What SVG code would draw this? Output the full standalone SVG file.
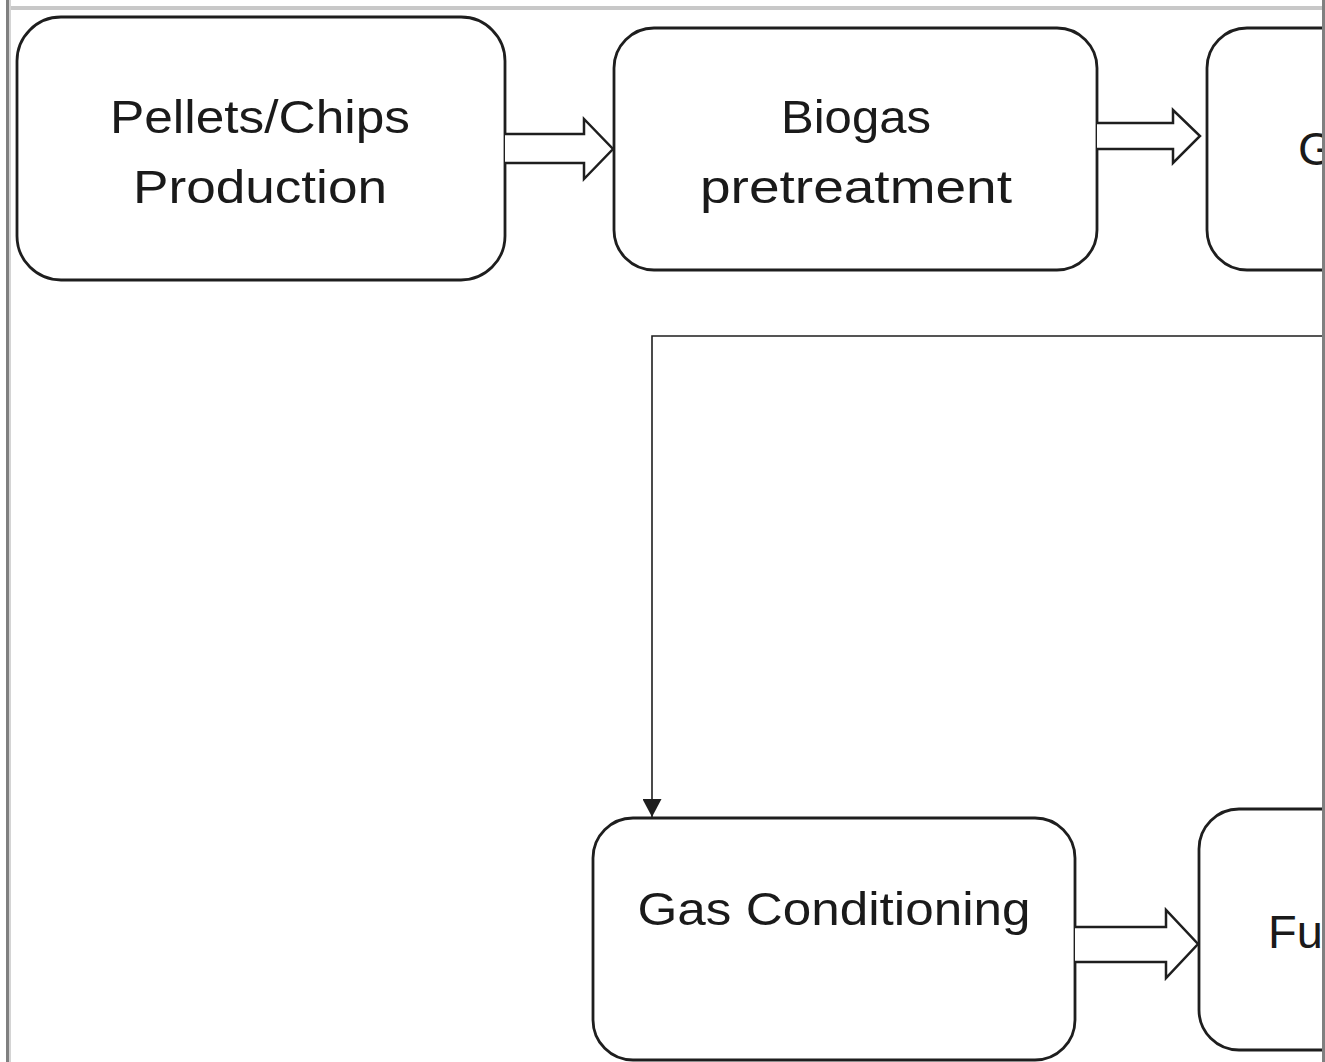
<svg xmlns="http://www.w3.org/2000/svg" width="1325" height="1062" viewBox="0 0 1325 1062">
  <defs>
    <style>
      .box { fill: #ffffff; stroke: #1e1e1e; stroke-width: 2.8; }
      .lbl { font-family: "Liberation Sans", Arial, sans-serif; font-size: 47px; fill: #1a1a1a; }
      .fat { fill: #ffffff; stroke: #1e1e1e; stroke-width: 2.5; stroke-linejoin: miter; }
      .thin { fill: none; stroke: #1e1e1e; stroke-width: 1.6; }
    </style>
    <marker id="tri" viewBox="0 0 10 10" refX="10" refY="5" markerWidth="18" markerHeight="19" markerUnits="userSpaceOnUse" orient="auto" preserveAspectRatio="none">
      <path d="M0,0 L10,5 L0,10 Z" fill="#1e1e1e"/>
    </marker>
  </defs>

  <rect x="0" y="0" width="1325" height="1062" fill="#ffffff"/>

  <!-- nodes -->
  <g id="pellets">
    <rect class="box" x="17" y="17" width="488" height="263" rx="44"/>
    <text class="lbl" x="260" y="133" text-anchor="middle" textLength="300" lengthAdjust="spacingAndGlyphs">Pellets/Chips</text>
    <text class="lbl" x="260" y="203" text-anchor="middle" textLength="254" lengthAdjust="spacingAndGlyphs">Production</text>
  </g>
  <g id="biogas">
    <rect class="box" x="614" y="28" width="483" height="242" rx="40"/>
    <text class="lbl" x="856" y="133" text-anchor="middle" textLength="150" lengthAdjust="spacingAndGlyphs">Biogas</text>
    <text class="lbl" x="856" y="203" text-anchor="middle" textLength="312" lengthAdjust="spacingAndGlyphs">pretreatment</text>
  </g>
  <g id="gasification">
    <rect class="box" x="1207" y="28" width="300" height="242" rx="40"/>
    <text class="lbl" x="1298" y="165">G</text>
  </g>
  <g id="conditioning">
    <rect class="box" x="593" y="818" width="482" height="242" rx="40"/>
    <text class="lbl" x="834" y="925" text-anchor="middle" textLength="393" lengthAdjust="spacingAndGlyphs">Gas Conditioning</text>
  </g>
  <g id="fuel">
    <rect class="box" x="1199" y="809" width="300" height="241" rx="40"/>
    <text class="lbl" x="1268" y="948">Fu</text>
  </g>

  <!-- connectors -->
  <g id="connectors">
    <path class="fat" d="M505,134 L584,134 L584,119 L613,149 L584,179 L584,163 L505,163"/>
    <path class="fat" d="M1097,123 L1173,123 L1173,110 L1200,136 L1173,163 L1173,149 L1097,149"/>
    <path class="fat" d="M1075,927 L1166,927 L1166,910 L1198,944 L1166,978 L1166,962 L1075,962"/>
    <path class="thin" d="M1330,336 L652,336 L652,817" marker-end="url(#tri)"/>
  </g>

  <!-- frame edges -->
  <rect x="11" y="6" width="1311" height="4" fill="#c8c8c8"/>
  <rect x="6" y="0" width="3" height="1062" fill="#808080"/>
  <rect x="9" y="0" width="2" height="1062" fill="#d4d4d4"/>
  <rect x="1322" y="0" width="3" height="1062" fill="#808080"/>
</svg>
